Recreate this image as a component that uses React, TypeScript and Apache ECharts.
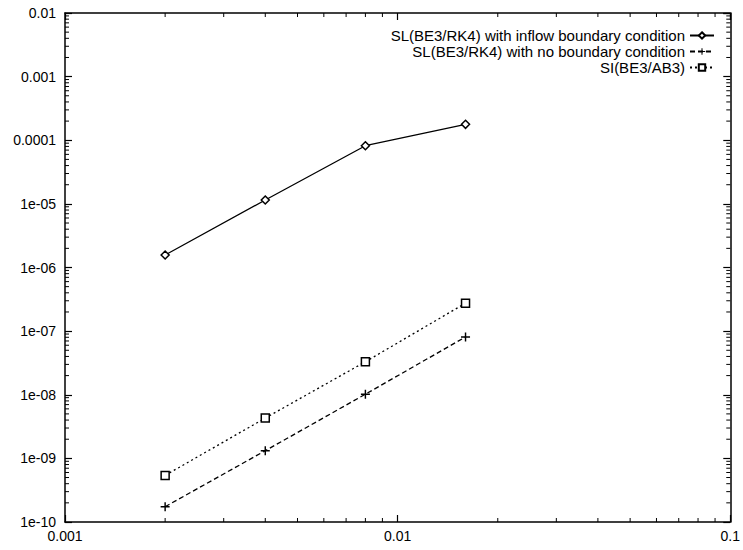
import React, { useEffect, useRef } from "react";
import * as echarts from "echarts";

const xValues = [0.002, 0.004, 0.008, 0.016];
const inflowValues = [1.57e-6, 1.15e-5, 8.2e-5, 1.78e-4];
const noBoundaryValues = [1.74e-10, 1.32e-9, 1.02e-8, 8.1e-8];
const siValues = [5.4e-10, 4.3e-9, 3.3e-8, 2.75e-7];
const seriesNames = [
  "SL(BE3/RK4) with inflow boundary condition",
  "SL(BE3/RK4) with no boundary condition",
  "SI(BE3/AB3)",
];
const X_MIN = 0.001;
const X_MAX = 0.1;
const Y_MIN = 1e-10;
const Y_MAX = 0.01;
const xDecades = [-3, -2];
const yDecades = [-10, -9, -8, -7, -6, -5, -4, -3];
const minorMultipliers = [2, 3, 4, 5, 6, 7, 8, 9];

const FONT = "Liberation Sans, Arial, sans-serif";

function fmtLog(v: number): string {
  const e = Math.round(Math.log10(v));
  if (e >= -4) return "0." + "0".repeat(-e - 1) + "1";
  return "1e-" + String(-e).padStart(2, "0");
}

export default function App() {
  const ref = useRef<HTMLDivElement>(null);
  useEffect(() => {
    if (!ref.current) return;
    const chart = echarts.init(ref.current, undefined, { renderer: "svg" });

    const minorData: number[][] = [];
    yDecades.forEach((d) =>
      minorMultipliers.forEach((m) => minorData.push([X_MIN, m * Math.pow(10, d), 0]))
    );
    xDecades.forEach((d) =>
      minorMultipliers.forEach((m) => minorData.push([m * Math.pow(10, d), Y_MIN, 1]))
    );

    const axisLine = { show: true, lineStyle: { color: "#000", width: 1.5 } };
    const tick = { show: true, inside: true, length: 7, lineStyle: { color: "#000", width: 1.2 } };
    const label = { color: "#000", fontFamily: FONT, fontSize: 14 };

    const lineData = (ys: number[]) => xValues.map((x, i) => [x, ys[i]]);

    const legendBase = {
      orient: "horizontal" as const,
      right: 28,
      padding: 0,
      align: "right" as const,
      itemWidth: 24,
      itemHeight: 8,
      itemGap: 0,
      textStyle: { color: "#000", fontFamily: FONT, fontSize: 15 },
      selectedMode: false,
    };

    chart.setOption({
      animation: false,
      backgroundColor: "#fff",
      grid: { left: 65, right: 10, top: 13, bottom: 28, containLabel: false },
      xAxis: [
        {
          type: "log",
          logBase: 10,
          min: X_MIN,
          max: X_MAX,
          position: "bottom",
          axisLine,
          axisTick: tick,
          axisLabel: { ...label, margin: 7, formatter: (v: number) => fmtLog(v) },
          splitLine: { show: false },
        },
        {
          type: "log",
          logBase: 10,
          min: X_MIN,
          max: X_MAX,
          position: "top",
          axisLine,
          axisTick: tick,
          axisLabel: { show: false },
          splitLine: { show: false },
        },
      ],
      yAxis: [
        {
          type: "log",
          logBase: 10,
          min: Y_MIN,
          max: Y_MAX,
          position: "left",
          axisLine,
          axisTick: tick,
          axisLabel: { ...label, margin: 9, formatter: (v: number) => fmtLog(v) },
          splitLine: { show: false },
        },
        {
          type: "log",
          logBase: 10,
          min: Y_MIN,
          max: Y_MAX,
          position: "right",
          axisLine,
          axisTick: tick,
          axisLabel: { show: false },
          splitLine: { show: false },
        },
      ],
      legend: [
        { ...legendBase, top: 28, data: [seriesNames[0]] },
        { ...legendBase, top: 44, data: [seriesNames[1]] },
        { ...legendBase, top: 60, data: [seriesNames[2]] },
      ],
      series: [
        {
          name: seriesNames[0],
          type: "line",
          data: lineData(inflowValues),
          symbol: "diamond",
          symbolSize: 8,
          showAllSymbol: true,
          lineStyle: { color: "#000", width: 1.3, type: "solid" },
          itemStyle: { color: "#fff", borderColor: "#000", borderWidth: 1.5 },
        },
        {
          name: seriesNames[1],
          type: "line",
          data: lineData(noBoundaryValues),
          symbol: "path://M4.2,0H5.8V4.2H10V5.8H5.8V10H4.2V5.8H0V4.2H4.2Z",
          symbolSize: 9,
          lineStyle: { color: "#000", width: 1.3, type: [5, 3] },
          itemStyle: { color: "#000", borderWidth: 0 },
        },
        {
          name: seriesNames[2],
          type: "line",
          data: lineData(siValues),
          symbol: "rect",
          symbolSize: 8,
          lineStyle: { color: "#000", width: 1.3, type: [2, 3] },
          itemStyle: { color: "#fff", borderColor: "#000", borderWidth: 1.5 },
        },
        {
          type: "custom",
          silent: true,
          data: minorData,
          renderItem: (params: any, api: any) => {
            const kind = api.value(2);
            const style = { stroke: "#000", lineWidth: 1 };
            if (kind === 0) {
              const y = api.value(1);
              const l = api.coord([X_MIN, y]);
              const r = api.coord([X_MAX, y]);
              return {
                type: "group",
                children: [
                  { type: "line", shape: { x1: l[0], y1: l[1], x2: l[0] + 4, y2: l[1] }, style },
                  { type: "line", shape: { x1: r[0], y1: r[1], x2: r[0] - 4, y2: r[1] }, style },
                ],
              };
            }
            const x = api.value(0);
            const b = api.coord([x, Y_MIN]);
            const t = api.coord([x, Y_MAX]);
            return {
              type: "group",
              children: [
                { type: "line", shape: { x1: b[0], y1: b[1], x2: b[0], y2: b[1] - 4 }, style },
                { type: "line", shape: { x1: t[0], y1: t[1], x2: t[0], y2: t[1] + 4 }, style },
              ],
            };
          },
        },
      ],
    });
    return () => chart.dispose();
  }, []);
  return <div ref={ref} style={{ width: 743, height: 550, position: "absolute", left: 0, top: 0 }} />;
}
